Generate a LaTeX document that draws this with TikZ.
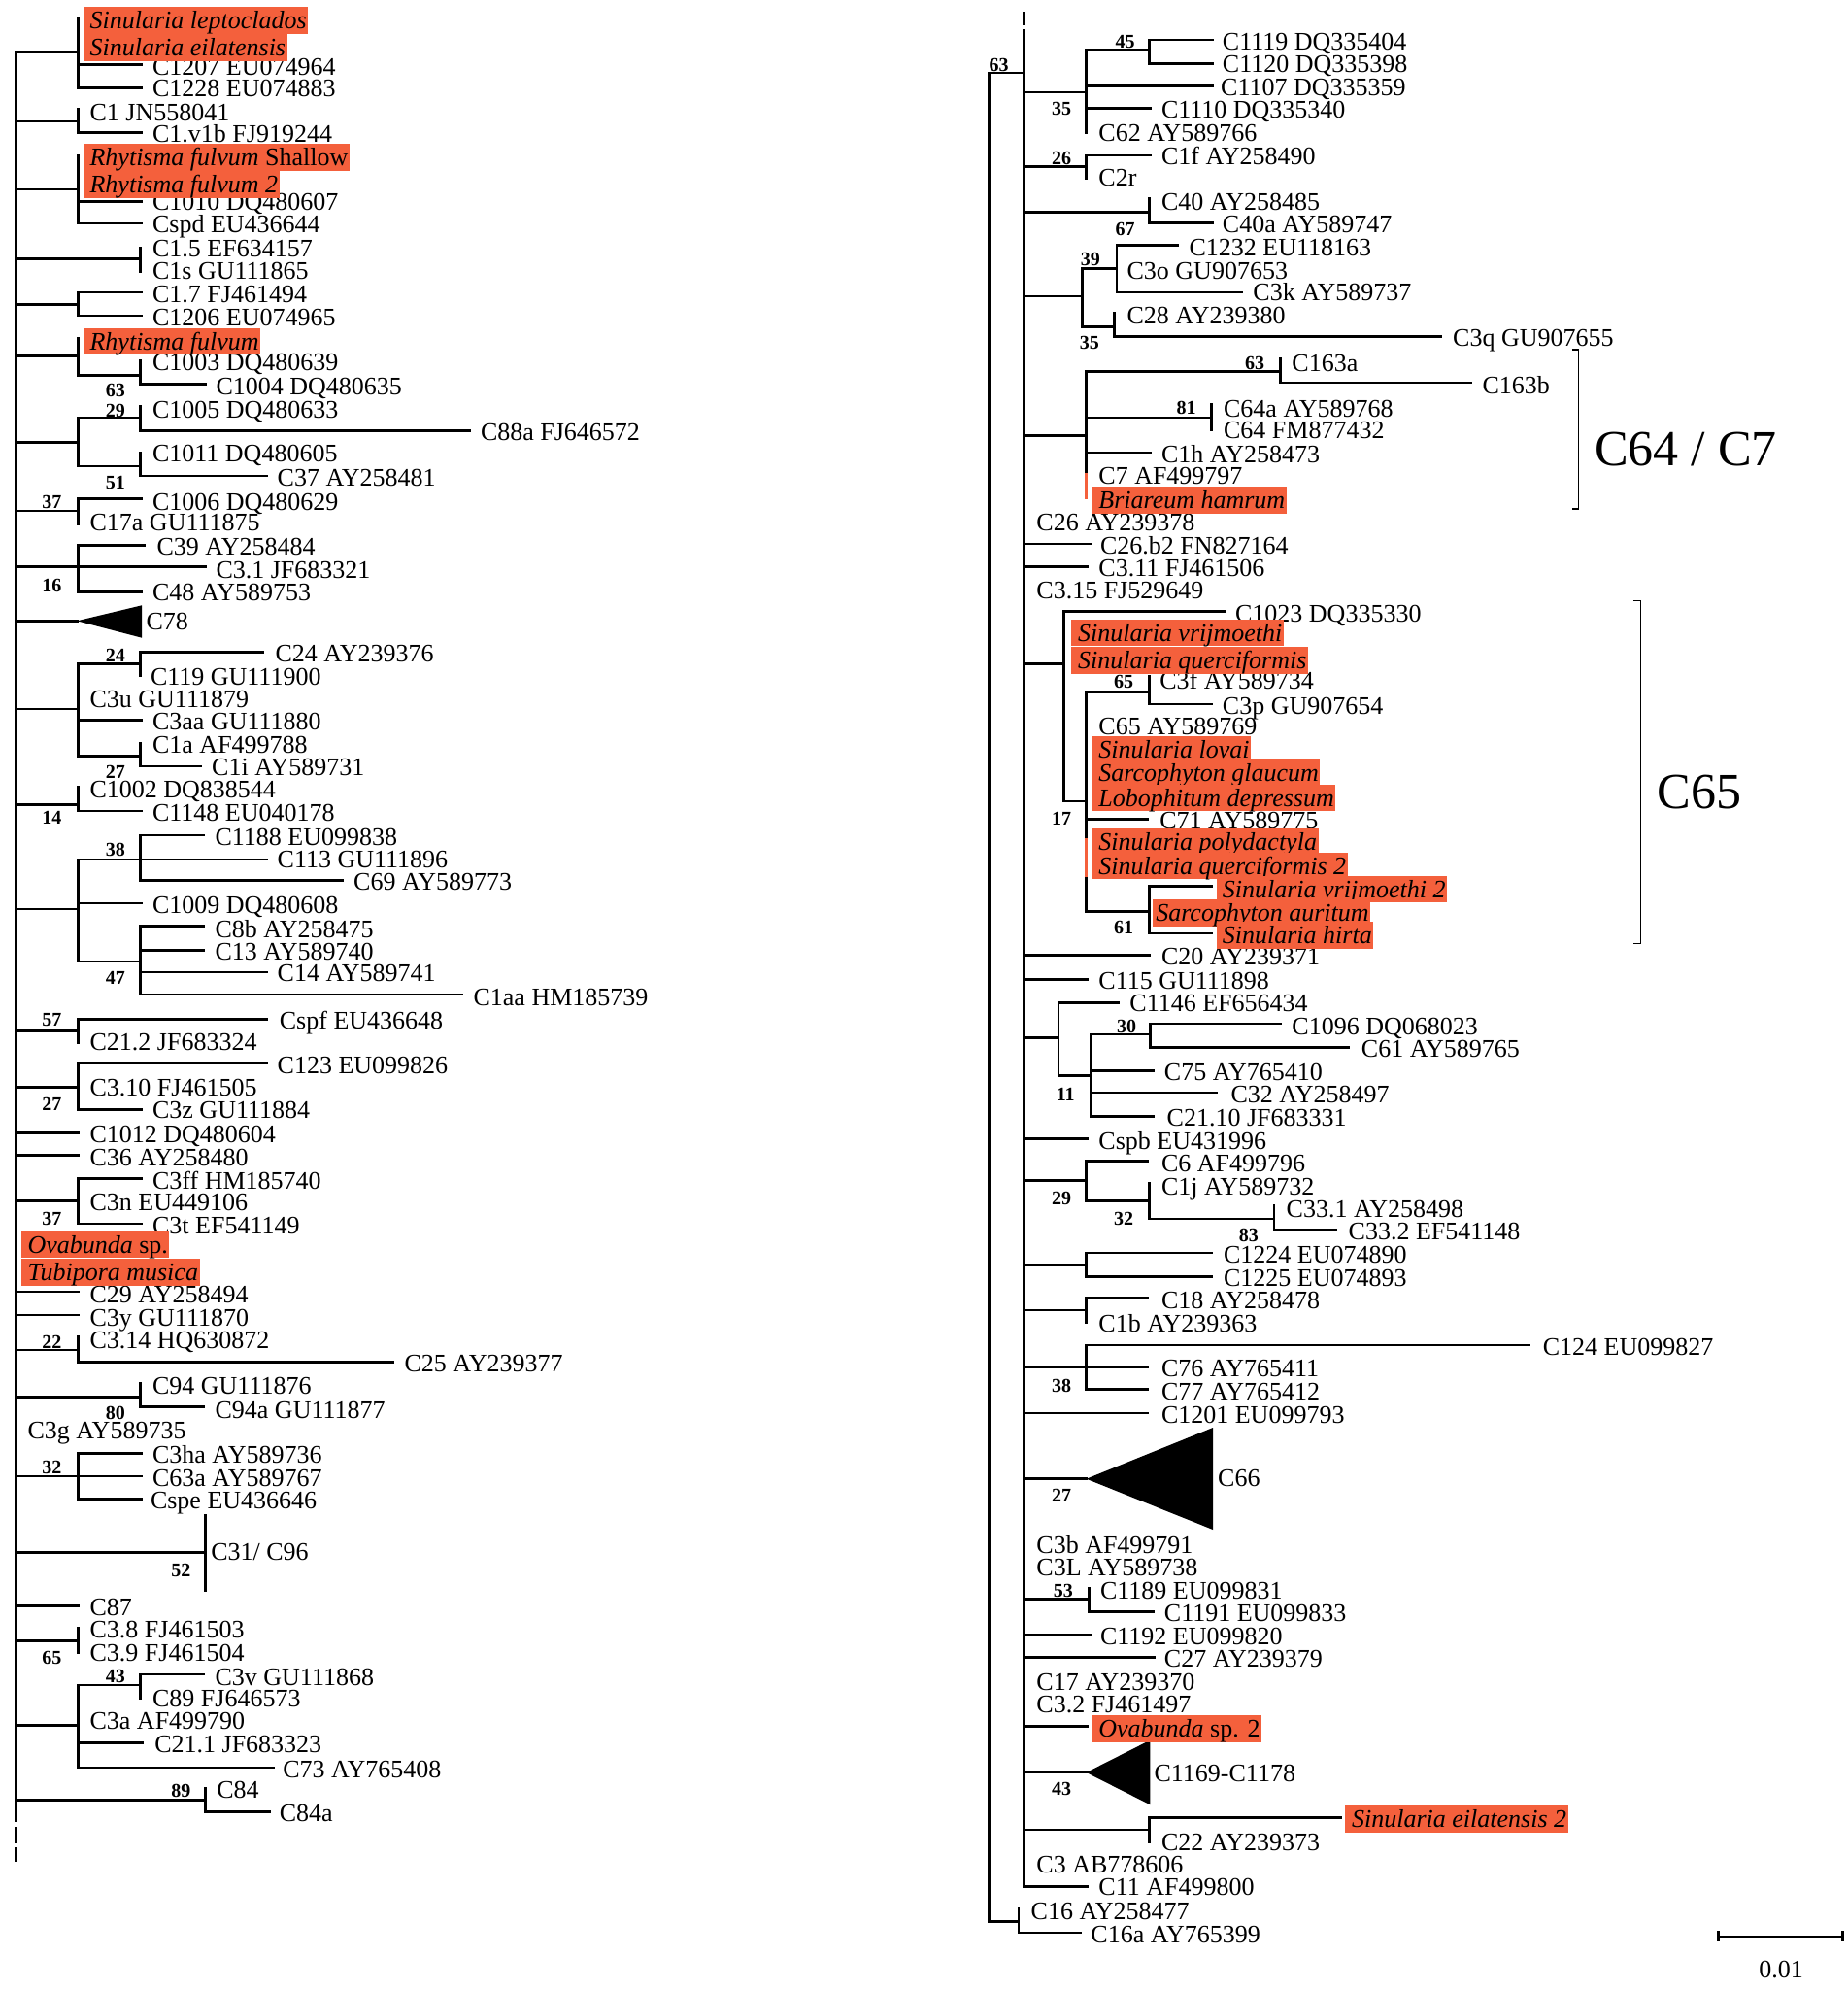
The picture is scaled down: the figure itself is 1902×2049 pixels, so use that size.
\documentclass[tikz,border=0pt]{standalone}
\usepackage{fontspec}
\setmainfont{Liberation Serif}
\definecolor{hlc}{RGB}{244,96,60}
\newcounter{nid}
\tikzset{
  br/.style={line width=2.7pt, line cap=rect},
  brk/.style={line width=1.3pt},
  lab/.style={anchor=base west, inner sep=0pt, font=\fontsize{26}{30}\selectfont},
  bsl/.style={anchor=center, inner sep=0pt, font=\fontsize{20}{24}\selectfont\bfseries},
  hlb/.style={anchor=base west, inner xsep=0pt, inner ysep=0pt, fill=hlc, text height=22.5pt, text depth=5.3pt, font=\fontsize{26}{30}\selectfont\itshape},
  big/.style={anchor=base west, inner sep=0pt, font=\fontsize{52}{60}\selectfont}
}
\newcommand\hb[3]{\draw[br] (#1,#3) -- (#2,#3);}
\newcommand\vb[3]{\draw[br] (#1,#2) -- (#1,#3);}
\newcommand\tx[3]{\stepcounter{nid}\node[lab] (t\thenid) at (#1,#2) {#3};}
\newcommand\bs[3]{\stepcounter{nid}\node[bsl] (b\thenid) at (#1,#2) {#3};}
\newcommand\hlbox[4][6.5]{\stepcounter{nid}\node[hlb] (h\thenid) at (#2,#3) {\hspace*{#1pt}#4\hspace*{1.5pt}};}
\begin{document}
\begin{tikzpicture}[x=1pt,y=-1pt]
\useasboundingbox (0,0) rectangle (1902,2049);
%================ LEFT TREE =================
\draw[br] (16.1,53) -- (16.1,1875);
\draw[br,line cap=butt] (16.1,1881) -- (16.1,1898);
\draw[br,line cap=butt] (16.1,1902) -- (16.1,1917);
% clade 1
\hb{16.1}{80.6}{54}\vb{80.6}{18}{90.7}
\hb{80.6}{145.2}{66.7}\hb{80.6}{145.2}{90.7}
\tx{156.9}{77.3}{C1207 EU074964}
\tx{156.9}{100}{C1228 EU074883}
% clade 2
\hb{16.1}{80.6}{125}\vb{80.6}{112.7}{136.7}\hb{80.6}{145.2}{136.7}
\tx{92.4}{124.3}{C1 JN558041}
\tx{156.9}{146.7}{C1.v1b FJ919244}
% clade 3
\hb{16.1}{80.6}{195}\vb{80.6}{160}{230}
\hb{80.6}{145.2}{207.3}\hb{80.6}{145.2}{230}
\tx{156.9}{216.7}{C1010 DQ480607}
\tx{156.9}{240}{Cspd EU436644}
% clade 4
\hb{16.1}{144.2}{266.7}\vb{144.2}{255}{280}
\tx{156.9}{265}{C1.5 EF634157}
\tx{156.9}{287.3}{C1s GU111865}
% clade 5
\hb{16.1}{80.6}{313.3}\vb{80.6}{301}{325}
\hb{80.6}{145.2}{301}\hb{80.6}{145.2}{325}
\tx{156.9}{311.7}{C1.7 FJ461494}
\tx{156.9}{335}{C1206 EU074965}
% clade 6
\hb{16.1}{80.6}{366.7}\vb{80.6}{348.3}{386.7}
\hb{80.6}{144.2}{386.7}\vb{144.2}{371.7}{395.7}\hb{144.2}{211.4}{395.7}
\tx{156.9}{381.7}{C1003 DQ480639}
\tx{222.3}{406.7}{C1004 DQ480635}
\bs{118.8}{401.7}{63}
% clade 7
\hb{16.1}{80.6}{455.7}\vb{80.6}{430}{480}
\hb{80.6}{144.2}{430}\vb{144.2}{418.3}{443.3}\hb{144.2}{483.9}{443.3}
\tx{156.9}{430}{C1005 DQ480633}
\tx{494.8}{453.3}{C88a FJ646572}
\bs{118.8}{423.3}{29}
\hb{80.6}{144.2}{480}\vb{144.2}{466.7}{490}\hb{144.2}{274.6}{490}
\tx{156.9}{475.7}{C1011 DQ480605}
\tx{285.5}{500}{C37 AY258481}
\bs{118.8}{496.7}{51}
% clade 8
\hb{16.1}{80.6}{526}\vb{80.6}{513.3}{540}\hb{80.6}{145.2}{513.3}
\tx{156.9}{525}{C1006 DQ480629}
\tx{92.4}{546.7}{C17a GU111875}
\bs{53.4}{516.7}{37}
% clade 9
\hb{16.1}{80.6}{583.3}\vb{80.6}{561.7}{609.3}
\hb{80.6}{148.2}{561.7}\hb{80.6}{211.4}{583.3}\hb{80.6}{145.2}{609.3}
\tx{161.3}{571.7}{C39 AY258484}
\tx{222.3}{595}{C3.1 JF683321}
\tx{156.9}{618.3}{C48 AY589753}
\bs{53.4}{603.3}{16}
% C78
\hb{16.1}{79.3}{639.3}
\fill (79.3,639.3) -- (146,623.3) -- (146,656.7) -- cycle;
\tx{150.4}{648.3}{C78}
% clade 10
\hb{16.1}{80.6}{730}\vb{80.6}{683.3}{778.3}
\hb{80.6}{144.2}{683.3}\vb{144.2}{671.7}{696}\hb{144.2}{270.3}{671.7}
\tx{283.3}{681.7}{C24 AY239376}
\tx{154.8}{705}{C119 GU111900}
\bs{118.8}{675}{24}
\tx{92.4}{728.3}{C3u GU111879}
\hb{80.6}{145.2}{741.7}
\tx{156.9}{751.7}{C3aa GU111880}
\hb{80.6}{144.2}{778.3}\vb{144.2}{765}{789}\hb{144.2}{207.1}{789}
\tx{156.9}{775.7}{C1a AF499788}
\tx{218}{798.3}{C1i AY589731}
\bs{118.8}{795}{27}
% clade 11
\hb{16.1}{80.6}{828.3}\vb{80.6}{810}{835}\hb{80.6}{145.2}{835}
\tx{92.4}{821.7}{C1002 DQ838544}
\tx{156.9}{845}{C1148 EU040178}
\bs{53.4}{841.7}{14}
% clade 12
\hb{16.1}{80.6}{936}\vb{80.6}{885}{990}
\hb{80.6}{144.2}{885}\vb{144.2}{860}{906.7}
\hb{144.2}{209.2}{860}\hb{144.2}{274.6}{885}\hb{144.2}{353.1}{906.7}
\tx{221.4}{870}{C1188 EU099838}
\tx{285.5}{893.3}{C113 GU111896}
\tx{364}{916.7}{C69 AY589773}
\bs{118.8}{875}{38}
\hb{80.6}{145.2}{930}
\tx{156.9}{940}{C1009 DQ480608}
\hb{80.6}{144.2}{990}\vb{144.2}{953.3}{1024}
\hb{144.2}{209.2}{953.3}\hb{144.2}{209.2}{978.3}\hb{144.2}{274.6}{1001}\hb{144.2}{475.2}{1024}
\tx{221.4}{965}{C8b AY258475}
\tx{221.4}{988.3}{C13 AY589740}
\tx{285.5}{1010.7}{C14 AY589741}
\tx{487.4}{1035}{C1aa HM185739}
\bs{118.8}{1006.7}{47}
% clade 13
\hb{16.1}{80.6}{1061.7}\vb{80.6}{1049.3}{1073.3}\hb{80.6}{274.6}{1049.3}
\tx{287.7}{1059.3}{Cspf EU436648}
\tx{92.4}{1081.7}{C21.2 JF683324}
\bs{53.4}{1050}{57}
% clade 14
\hb{16.1}{80.6}{1119.3}\vb{80.6}{1095}{1142.7}
\hb{80.6}{274.6}{1095}\hb{80.6}{145.2}{1142.7}
\tx{285.5}{1105}{C123 EU099826}
\tx{92.4}{1128.3}{C3.10 FJ461505}
\tx{156.9}{1151.7}{C3z GU111884}
\bs{53.4}{1136.7}{27}
\hb{16.1}{80.6}{1166.7}\tx{92.4}{1176.7}{C1012 DQ480604}
\hb{16.1}{80.6}{1189.3}\tx{92.4}{1200}{C36 AY258480}
% clade 15
\hb{16.1}{80.6}{1236.7}\vb{80.6}{1213.3}{1260}
\hb{80.6}{145.2}{1213.3}\hb{80.6}{145.2}{1260}
\tx{156.9}{1224.3}{C3ff HM185740}
\tx{92.4}{1246.7}{C3n EU449106}
\tx{156.9}{1270}{C3t EF541149}
\bs{53.4}{1255}{37}
\hb{16.1}{80.6}{1330}\tx{92.4}{1341}{C29 AY258494}
\hb{16.1}{80.6}{1354}\tx{92.4}{1365}{C3y GU111870}
% clade 22
\hb{16.1}{80.6}{1390}\vb{80.6}{1376.7}{1402.7}\hb{80.6}{404.5}{1402.7}
\tx{92.4}{1388.3}{C3.14 HQ630872}
\tx{416.3}{1412.7}{C25 AY239377}
\bs{53.4}{1381.7}{22}
% clade 80
\hb{16.1}{144.2}{1438.3}\vb{144.2}{1424.3}{1448.3}\hb{144.2}{209.2}{1448.3}
\tx{156.9}{1435}{C94 GU111876}
\tx{221.4}{1460}{C94a GU111877}
\bs{118.8}{1455}{80}
\tx{28.3}{1481.7}{C3g AY589735}
% clade 32
\hb{16.1}{80.6}{1520}\vb{80.6}{1496.7}{1543.3}
\hb{80.6}{145.2}{1496.7}\hb{80.6}{145.2}{1520}\hb{80.6}{145.2}{1543.3}
\tx{156.9}{1506.7}{C3ha AY589736}
\tx{156.9}{1530}{C63a AY589767}
\tx{154.8}{1553.3}{Cspe EU436646}
\bs{53.4}{1510.7}{32}
% C31/C96
\hb{16.1}{211.4}{1598.3}\vb{211.4}{1560}{1637.3}
\tx{217.1}{1606.7}{C31/ C96}
\bs{186.3}{1616.7}{52}
\hb{16.1}{80.6}{1653.3}\tx{92.4}{1663.3}{C87}
% clade 65
\hb{16.1}{80.6}{1689.3}\vb{80.6}{1676}{1701.7}
\tx{92.4}{1686.7}{C3.8 FJ461503}
\tx{92.4}{1710.7}{C3.9 FJ461504}
\bs{53.4}{1706.7}{65}
% clade 43
\hb{16.1}{80.6}{1776.7}\vb{80.6}{1735}{1820}
\hb{80.6}{144.2}{1735}\vb{144.2}{1724}{1748.3}\hb{144.2}{209.2}{1724}
\tx{221.4}{1735}{C3v GU111868}
\tx{156.9}{1757.3}{C89 FJ646573}
\bs{118.8}{1726}{43}
\tx{92.4}{1780.7}{C3a AF499790}
\hb{80.6}{146.9}{1794.3}\tx{159.1}{1804.3}{C21.1 JF683323}
\hb{80.6}{281.2}{1820}\tx{291.2}{1830}{C73 AY765408}
% clade 89
\hb{16.1}{211.4}{1853.3}\vb{211.4}{1841}{1865.7}\hb{211.4}{277.7}{1865.7}
\tx{223.2}{1851.7}{C84}
\tx{287.7}{1875}{C84a}
\bs{186.3}{1844}{89}
%================ RIGHT TREE =================
\hb{1018.6}{1054.6}{75}
\vb{1018.6}{75}{1978.3}
\bs{1028.6}{66.7}{63}
\draw[br,line cap=butt] (1054.6,11.7) -- (1054.6,26);
\vb{1054.6}{31.7}{1942.7}
% clade A
\hb{1054.6}{1118.6}{95}\vb{1118.6}{51.7}{136.7}
\hb{1118.6}{1183.2}{51.7}\vb{1183.2}{41}{65.7}
\hb{1183.2}{1249}{41}\hb{1183.2}{1249}{65.7}
\tx{1258.7}{51.7}{C1119 DQ335404}
\tx{1258.7}{75}{C1120 DQ335398}
\bs{1158.6}{43.3}{45}
\hb{1118.6}{1249}{88.3}\tx{1257}{98.3}{C1107 DQ335359}
\hb{1118.6}{1184.4}{111.7}\tx{1195.8}{121.7}{C1110 DQ335340}
\tx{1131.2}{145.7}{C62 AY589766}
\bs{1093.2}{111.7}{35}
% clade 26
\hb{1054.6}{1118.6}{171.7}\vb{1118.6}{160}{183.3}\hb{1118.6}{1184.4}{160}
\tx{1195.8}{170}{C1f AY258490}
\tx{1131.2}{191.7}{C2r}
\bs{1093.2}{162.7}{26}
% clade 67
\hb{1054.6}{1183.2}{218.3}\vb{1183.2}{204}{229.3}\hb{1183.2}{1249}{229.3}
\tx{1195.8}{216.7}{C40 AY258485}
\tx{1258.7}{240}{C40a AY589747}
\bs{1158.6}{236}{67}
% clade 39/35
\hb{1054.6}{1114.6}{305}\vb{1114.6}{276.7}{336.7}
\hb{1114.6}{1150.1}{276.7}\vb{1150.1}{252.3}{301}
\hb{1150.1}{1213}{252.3}\hb{1150.1}{1278.7}{301}
\tx{1224.4}{263.3}{C1232 EU118163}
\tx{1160.4}{287.3}{C3o GU907653}
\tx{1290.2}{310}{C3k AY589737}
\bs{1122.9}{266.7}{39}
\hb{1114.6}{1147.2}{336.7}\vb{1147.2}{322.7}{346.7}\hb{1147.2}{1483.4}{346.7}
\tx{1160.4}{333.3}{C28 AY239380}
\tx{1496}{356.7}{C3q GU907655}
\bs{1121.8}{353}{35}
% C64/C7
\hb{1054.6}{1118.6}{448.3}\vb{1118.6}{382.3}{487}
\draw[br,draw=hlc,line cap=butt] (1118.6,487) -- (1118.6,514);
\hb{1118.6}{1318.7}{382.3}\vb{1318.7}{369}{394}\hb{1318.7}{1514.3}{394}
\tx{1330.2}{382.3}{C163a}
\tx{1526.3}{405}{C163b}
\bs{1292.2}{374}{63}
\hb{1118.6}{1247.3}{430}\vb{1247.3}{416.7}{442.7}
\tx{1259.9}{429}{C64a AY589768}
\tx{1259.9}{451.7}{C64 FM877432}
\bs{1221.5}{420}{81}
\hb{1118.6}{1184.4}{466}\tx{1195.8}{476}{C1h AY258473}
\tx{1131.2}{498.3}{C7 AF499797}
\tx{1067.2}{546.7}{C26 AY239378}
\hb{1054.6}{1122.6}{560}\tx{1132.9}{570}{C26.b2 FN827164}
\hb{1054.6}{1119.8}{583.3}\tx{1131.2}{593.3}{C3.11 FJ461506}
\tx{1067.2}{616.7}{C3.15 FJ529649}
% C65
\hb{1054.6}{1095.8}{683.3}\vb{1095.8}{629.3}{825}
\hb{1095.8}{1261.6}{629.3}\tx{1271.9}{640}{C1023 DQ335330}
\hb{1095.8}{1118.6}{825}\vb{1118.6}{712.7}{863.3}\vb{1118.6}{903.3}{938.3}
\draw[br,draw=hlc,line cap=butt] (1118.6,863.3) -- (1118.6,903.3);
\hb{1118.6}{1183.2}{712.7}\vb{1183.2}{696.7}{725}\hb{1183.2}{1247.3}{725}
\tx{1194.1}{709.3}{C3f AY589734}
\tx{1258.7}{735}{C3p GU907654}
\bs{1157.2}{701.7}{65}
\tx{1131.2}{756.7}{C65 AY589769}
\hb{1118.6}{1181.5}{843.3}\tx{1194.1}{853.3}{C71 AY589775}
\bs{1093.2}{843.3}{17}
\hb{1118.6}{1183.2}{938.3}\vb{1183.2}{912.7}{961}
\hb{1183.2}{1247.3}{912.7}\hb{1183.2}{1247.3}{961}
\bs{1157.2}{955}{61}
\hb{1054.6}{1183.2}{983.3}\tx{1195.8}{993.3}{C20 AY239371}
\hb{1054.6}{1119.8}{1008.3}\tx{1131.2}{1018.3}{C115 GU111898}
% clade 11
\hb{1054.6}{1090}{1068.3}\vb{1090}{1032.3}{1107.3}
\hb{1090}{1151.8}{1032.3}\tx{1163.2}{1041.7}{C1146 EF656434}
\hb{1090}{1123.2}{1107.3}\vb{1123.2}{1065}{1149.3}
\hb{1123.2}{1184.4}{1065}\vb{1184.4}{1054}{1078.3}
\hb{1184.4}{1318.7}{1054}\hb{1184.4}{1388.5}{1078.3}
\tx{1330.2}{1065}{C1096 DQ068023}
\tx{1401.7}{1088.3}{C61 AY589765}
\bs{1160}{1057.3}{30}
\hb{1123.2}{1187.2}{1102.3}\tx{1198.7}{1112.3}{C75 AY765410}
\hb{1123.2}{1253}{1125}\tx{1267.3}{1135}{C32 AY258497}
\hb{1123.2}{1187.2}{1149.3}\tx{1201.5}{1159.3}{C21.10 JF683331}
\bs{1097.2}{1126.7}{11}
\hb{1054.6}{1119.8}{1172.3}\tx{1131.2}{1183.3}{Cspb EU431996}
% clade 29
\hb{1054.6}{1118.6}{1215.7}\vb{1118.6}{1195.7}{1236.7}
\hb{1118.6}{1181.5}{1195.7}\tx{1195.8}{1206.7}{C6 AF499796}
\hb{1118.6}{1183.2}{1236.7}\vb{1183.2}{1218.3}{1255}
\tx{1195.8}{1230}{C1j AY589732}
\hb{1183.2}{1311.9}{1255}\vb{1311.9}{1241.7}{1266.7}\hb{1311.9}{1375.9}{1266.7}
\tx{1324.5}{1253.3}{C33.1 AY258498}
\tx{1388.5}{1276.7}{C33.2 EF541148}
\bs{1285.9}{1271.7}{83}
\bs{1157.2}{1255}{32}
\bs{1093.2}{1234.3}{29}
% C1224
\hb{1054.6}{1118.6}{1302.3}\vb{1118.6}{1290}{1314.3}
\hb{1118.6}{1247.3}{1290}\hb{1118.6}{1247.3}{1314.3}
\tx{1259.9}{1300.7}{C1224 EU074890}
\tx{1259.9}{1324}{C1225 EU074893}
% C18
\hb{1054.6}{1118.6}{1349}\vb{1118.6}{1336}{1361.7}\hb{1118.6}{1181.5}{1336}
\tx{1195.8}{1347.7}{C18 AY258478}
\tx{1131.2}{1371.7}{C1b AY239363}
% clade 38
\hb{1054.6}{1118.6}{1407.3}\vb{1118.6}{1385}{1430.7}
\hb{1118.6}{1574.9}{1385}\hb{1118.6}{1181.5}{1407.3}\hb{1118.6}{1181.5}{1430.7}
\tx{1588.6}{1395}{C124 EU099827}
\tx{1195.8}{1417.3}{C76 AY765411}
\tx{1195.8}{1441.7}{C77 AY765412}
\bs{1093.2}{1426.7}{38}
\hb{1054.6}{1181.5}{1455}\tx{1195.8}{1465}{C1201 EU099793}
% C66
\hb{1054.6}{1118.6}{1522.7}
\fill (1118.6,1522.7) -- (1249,1470) -- (1249,1575) -- cycle;
\tx{1254}{1530.7}{C66}
\bs{1093.2}{1540}{27}
\tx{1067.2}{1599.3}{C3b AF499791}
\tx{1067.2}{1622.7}{C3L AY589738}
% clade 53
\hb{1054.6}{1121.5}{1646.7}\vb{1121.5}{1635}{1659.3}\hb{1121.5}{1187.2}{1659.3}
\tx{1132.9}{1646.7}{C1189 EU099831}
\tx{1198.7}{1669.3}{C1191 EU099833}
\bs{1094.9}{1638.3}{53}
\hb{1054.6}{1123.2}{1683.3}\tx{1132.9}{1693.3}{C1192 EU099820}
\hb{1054.6}{1188.4}{1706.7}\tx{1198.7}{1716.7}{C27 AY239379}
\tx{1067.2}{1740}{C17 AY239370}
\tx{1067.2}{1763.3}{C3.2 FJ461497}
\hb{1054.6}{1119.8}{1777.3}
% C1169-C1178
\hb{1054.6}{1118.6}{1825}
\fill (1118.6,1825) -- (1184.4,1791.7) -- (1184.4,1858.3) -- cycle;
\tx{1188.4}{1834}{C1169-C1178}
\bs{1093.2}{1841.7}{43}
% C22
\hb{1054.6}{1183.2}{1884}\vb{1183.2}{1871.7}{1896.7}\hb{1183.2}{1380.5}{1871.7}
\tx{1195.8}{1905}{C22 AY239373}
\tx{1067.2}{1928.3}{C3 AB778606}
\hb{1054.6}{1119.8}{1942.7}\tx{1131.2}{1951.7}{C11 AF499800}
% C16
\hb{1018.6}{1048.9}{1978.3}\vb{1048.9}{1965}{1990}\hb{1048.9}{1112.9}{1990}
\tx{1061.5}{1976.7}{C16 AY258477}
\tx{1123.2}{2000}{C16a AY765399}
%================ HIGHLIGHTS =================
\hlbox{85.9}{30}{Sinularia leptoclados}
\hlbox{85.9}{57.3}{Sinularia eilatensis}
\hlbox{85.9}{171}{Rhytisma fulvum {\upshape Shallow}}
\hlbox{85.9}{199}{Rhytisma fulvum 2}
\hlbox{85.9}{360}{Rhytisma fulvum}
\hlbox{21.8}{1290}{Ovabunda {\upshape sp.}}
\hlbox{21.8}{1318.3}{Tubipora musica}
\hlbox[6.8]{1124.4}{523.3}{Briareum hamrum}
\hlbox[6.8]{1103.2}{660}{Sinularia vrijmoethi}
\hlbox[6.8]{1103.2}{688.3}{Sinularia querciformis}
\hlbox[6.8]{1124.4}{780}{Sinularia lovai}
\hlbox[6.8]{1124.4}{804}{Sarcophyton glaucum}
\hlbox[6.8]{1124.4}{830}{Lobophitum depressum}
\hlbox[6.8]{1124.4}{875}{Sinularia polydactyla}
\hlbox[6.8]{1124.4}{900}{Sinularia querciformis 2}
\hlbox[5.7]{1253}{924}{Sinularia vrijmoethi 2}
\hlbox[2.9]{1187.2}{948.3}{Sarcophyton auritum}
\hlbox[5.7]{1253}{971.7}{Sinularia hirta}
\hlbox[6.8]{1124.4}{1788.3}{Ovabunda {\upshape sp. 2}}
\hlbox[7.4]{1384.5}{1881.7}{Sinularia eilatensis 2}
%================ BRACKETS, SCALE =================
\draw[brk] (1618.9,360) -- (1625.8,360) -- (1625.8,524) -- (1618.9,524);
\node[big] (c647) at (1641.8,479.3) {C64 / C7};
\draw[brk] (1681.8,618.3) -- (1689.2,618.3) -- (1689.2,971.7) -- (1681.8,971.7);
\node[big] (c65) at (1706.4,832.7) {C65};
\coordinate (sbl) at (1769.3,1994);
\coordinate (sbr) at (1897.4,1994);
\draw[br,line cap=butt] (sbl) -- (sbr);
\draw[br,line cap=butt] ([yshift=5.7pt]sbl) -- ([yshift=-5.3pt]sbl);
\draw[br,line cap=butt] ([yshift=5.7pt]sbr) -- ([yshift=-5.3pt]sbr);
\node[lab,anchor=base] (sblab) at (1834,2036.7) {0.01};
\end{tikzpicture}
\end{document}
